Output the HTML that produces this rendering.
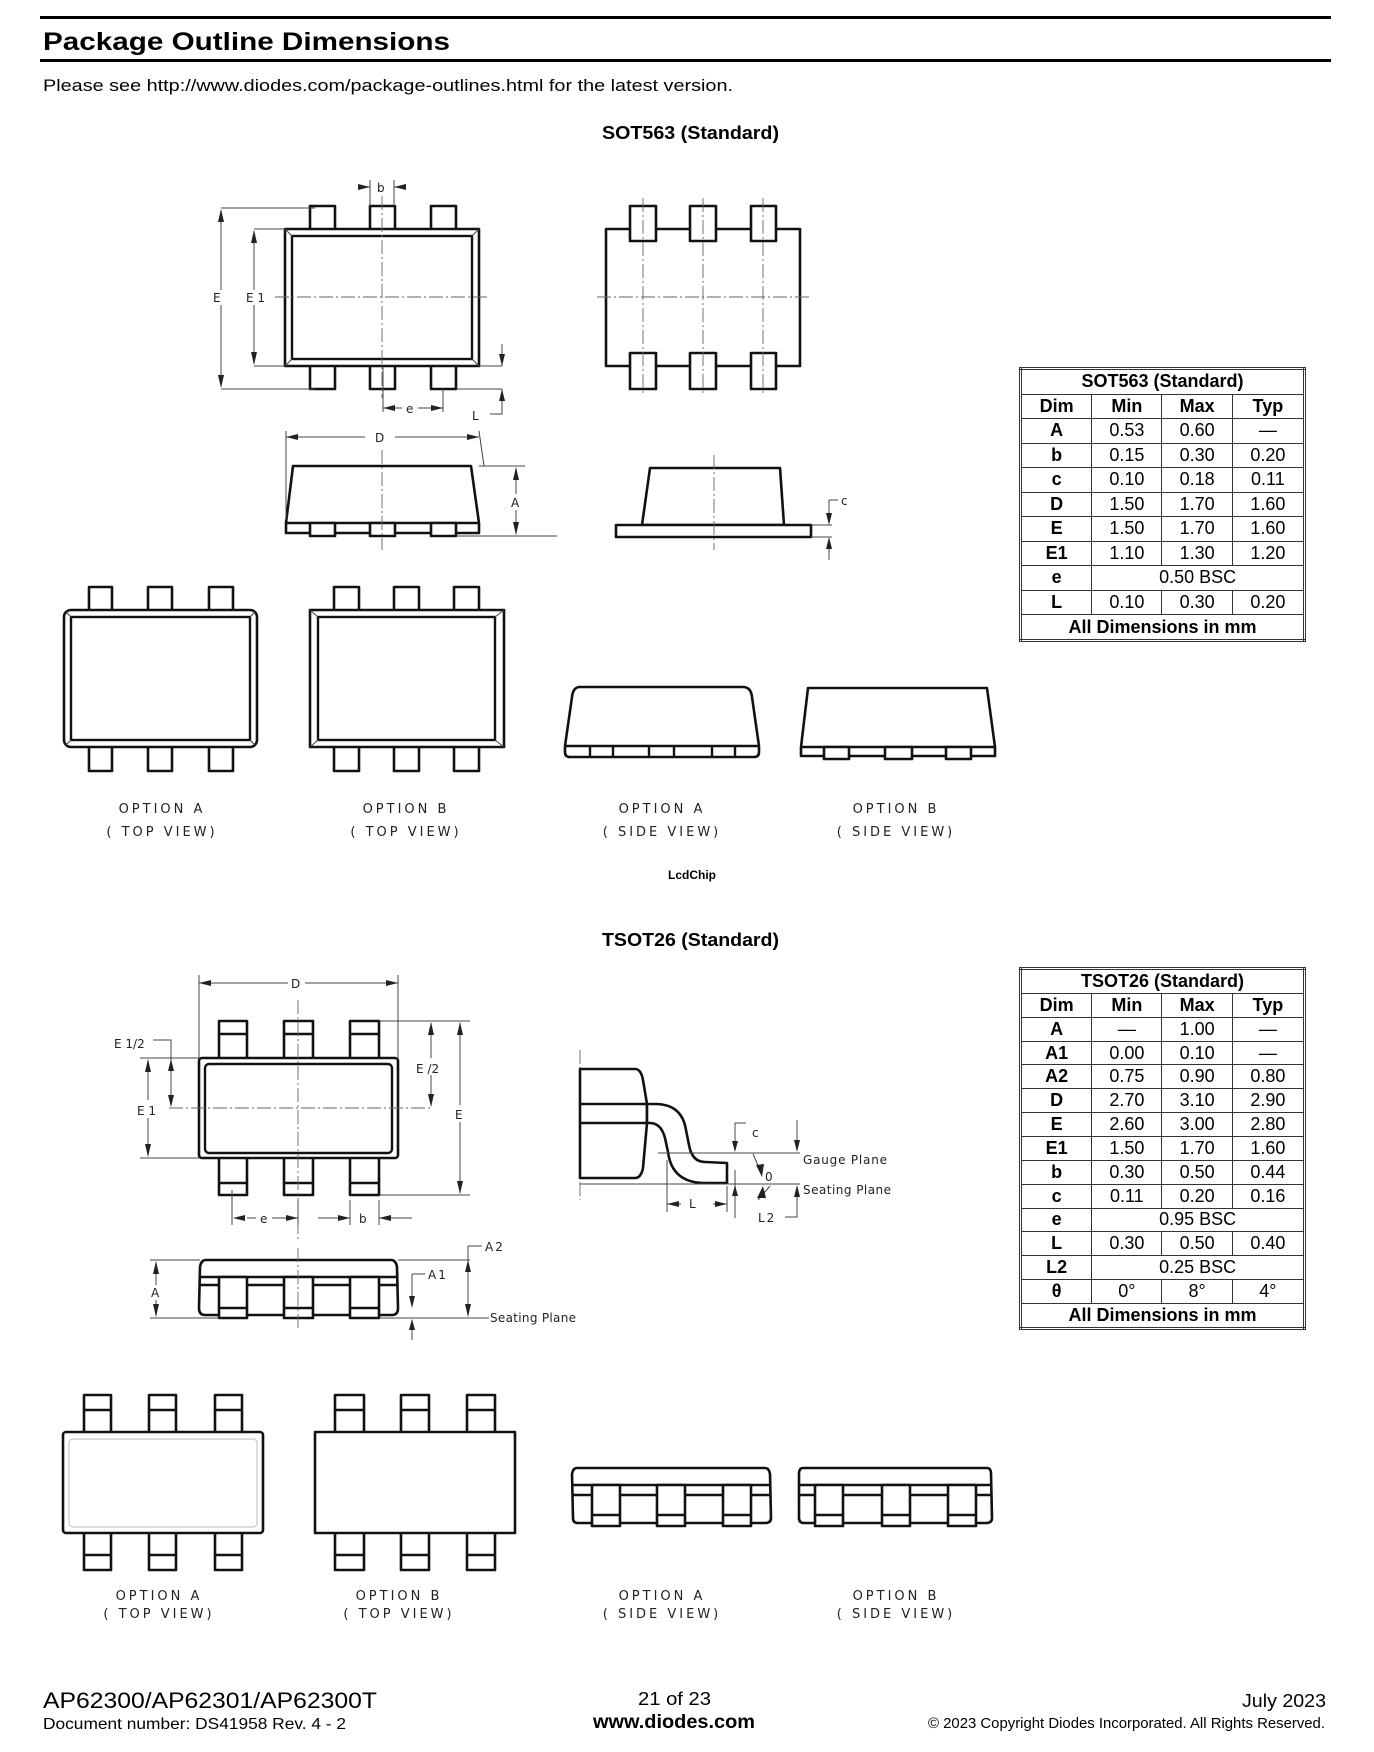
<!DOCTYPE html>
<html><head><meta charset="utf-8"><style>
html,body{margin:0;padding:0;background:#fff;}
svg{display:block;}
.t{font-family:"Liberation Sans",Arial,sans-serif;}
.d{font-family:"DejaVu Sans","Liberation Sans",sans-serif;font-size:12px;fill:#222;}
.o{font-family:"DejaVu Sans","Liberation Sans",sans-serif;font-size:13px;letter-spacing:3px;fill:#222;text-anchor:middle;}
.s{fill:#fff;stroke:#111;stroke-width:2.6;stroke-linejoin:round;}
.n{fill:none;stroke:#111;stroke-width:2.4;}
.th{fill:none;stroke:#444;stroke-width:1;}
.cl{fill:none;stroke:#666;stroke-width:0.9;stroke-dasharray:14,3,2,3;}
.ar{fill:#222;}
table{position:absolute;border-collapse:collapse;font-family:"Liberation Sans",Arial,sans-serif;font-size:18px;text-align:center;border:3px double #333;}
td{border:1.5px solid #333;padding:0;line-height:21px;}
tr td:first-child{font-weight:bold;}
</style></head><body>
<div style="position:relative;width:1374px;height:1752px;overflow:hidden;">
<svg width="1374" height="1752" viewBox="0 0 1374 1752" xmlns="http://www.w3.org/2000/svg">
<!-- header -->
<rect x="40" y="16" width="1291" height="3" fill="#000"/>
<text class="t" x="43" y="50" font-size="25" font-weight="bold" textLength="407" lengthAdjust="spacingAndGlyphs">Package Outline Dimensions</text>
<rect x="40" y="59" width="1291" height="3" fill="#000"/>
<text class="t" x="43" y="91" font-size="17" textLength="690" lengthAdjust="spacingAndGlyphs">Please see http://www.diodes.com/package-outlines.html for the latest version.</text>
<text class="t" x="602" y="139" font-size="18" font-weight="bold" textLength="177" lengthAdjust="spacingAndGlyphs">SOT563 (Standard)</text>

<!-- SOT563 top view -->
<g>
<rect class="s" x="310" y="206" width="25" height="26"/><rect class="s" x="370" y="206" width="25" height="26"/><rect class="s" x="431" y="206" width="25" height="26"/>
<rect class="s" x="310" y="362" width="25" height="27"/><rect class="s" x="370" y="362" width="25" height="27"/><rect class="s" x="431" y="362" width="25" height="27"/>
<rect class="s" x="285" y="229" width="194" height="137"/>
<rect class="n" x="292" y="236" width="180" height="123"/>
<path class="th" d="M285,229 L292,236 M479,229 L472,236 M285,366 L292,359 M479,366 L472,359"/>
<line class="cl" x1="382" y1="196" x2="382" y2="398"/>
<line class="cl" x1="275" y1="297" x2="490" y2="297"/>
<line class="th" x1="221" y1="208" x2="315" y2="208"/><line class="th" x1="221" y1="389" x2="315" y2="389"/>
<path class="th" d="M221,290 V210 M221,305 V387" />
<path class="ar" d="M218,222 L221,209 L224,222z M218,375 L221,388 L224,375z"/>
<text class="d" x="213" y="302">E</text>
<line class="th" x1="254" y1="229" x2="285" y2="229"/><line class="th" x1="254" y1="366" x2="285" y2="366"/>
<path class="th" d="M254,290 V231 M254,305 V364"/>
<path class="ar" d="M251,243 L254,230 L257,243z M251,352 L254,365 L257,352z"/>
<text class="d" x="246" y="302">E 1</text>
<path class="th" d="M358,187 H370 M394,187 H406 M370,180 V206 M394,180 V206"/>
<path class="ar" d="M358,184 L370,187 L358,190z M406,184 L394,187 L406,190z"/>
<text class="d" x="377" y="192">b</text>
<path class="th" d="M383,366 V412 M443,389 V412 M383,408 H402 M418,408 H443"/>
<path class="ar" d="M395,405 L383,408 L395,411z M431,405 L443,408 L431,411z"/>
<text class="d" x="406" y="413">e</text>
<path class="th" d="M479,366 H502 M456,389 H502 M502,344 V366 M502,389 V414 H490"/>
<path class="ar" d="M499,354 L502,366 L505,354z M499,401 L502,389 L505,401z"/>
<text class="d" x="472" y="420">L</text>
</g>
<!-- SOT563 bottom view -->
<g>
<rect class="s" x="606" y="229" width="194" height="137"/>
<rect class="s" x="630" y="206" width="26" height="35"/><rect class="s" x="690" y="206" width="26" height="35"/><rect class="s" x="751" y="206" width="25" height="35"/>
<rect class="s" x="630" y="353" width="26" height="36"/><rect class="s" x="690" y="353" width="26" height="36"/><rect class="s" x="751" y="353" width="25" height="36"/>
<line class="cl" x1="703" y1="198" x2="703" y2="396"/><line class="cl" x1="597" y1="297" x2="810" y2="297"/>
<line class="cl" x1="643" y1="198" x2="643" y2="396"/><line class="cl" x1="763" y1="198" x2="763" y2="396"/>
</g>
<!-- SOT563 side view w/ D, A -->
<g>
<path class="s" d="M293,466 H471 L479,523 V533 H286 V523z"/>
<line class="n" x1="286" y1="523" x2="479" y2="523"/>
<rect class="s" x="310" y="523" width="25" height="13"/><rect class="s" x="370" y="523" width="25" height="13"/><rect class="s" x="431" y="523" width="25" height="13"/>
<line class="cl" x1="382" y1="450" x2="382" y2="550"/>
<path class="th" d="M286,431 V520 M479,431 L484,466 M286,437 H365 M395,437 H479"/>
<path class="ar" d="M298,434 L286,437 L298,440z M467,434 L479,437 L467,440z"/>
<text class="d" x="375" y="442">D</text>
<path class="th" d="M479,466 H525 M456,536 H557 M516,468 V494 M516,510 V534"/>
<path class="ar" d="M513,480 L516,467 L519,480z M513,522 L516,535 L519,522z"/>
<text class="d" x="511" y="507">A</text>
</g>
<g>
<path class="s" d="M650,468 H780 L784,525 H642z"/>
<rect class="s" x="616" y="525" width="195" height="12"/>
<line class="cl" x1="714" y1="455" x2="714" y2="550"/>
<path class="th" d="M811,525 H832 M811,537 H832 M829,500 H838 M829,500 V518 M829,544 V560"/>
<path class="ar" d="M826,513 L829,525 L832,513z M826,549 L829,537 L832,549z"/>
<text class="d" x="841" y="505">c</text>
</g>

<!-- SOT563 options -->
<g>
<rect class="s" x="89" y="587" width="23" height="24"/><rect class="s" x="148" y="587" width="24" height="24"/><rect class="s" x="209" y="587" width="24" height="24"/>
<rect class="s" x="89" y="746" width="23" height="25"/><rect class="s" x="148" y="746" width="24" height="25"/><rect class="s" x="209" y="746" width="24" height="25"/>
<rect class="s" x="64" y="610" width="193" height="137" rx="7"/>
<rect class="n" x="71" y="617" width="179" height="123"/>
<path class="th" d="M66,612 L71,617 M255,612 L250,617 M66,745 L71,740 M255,745 L250,740"/>

<rect class="s" x="334" y="587" width="25" height="24"/><rect class="s" x="394" y="587" width="25" height="24"/><rect class="s" x="454" y="587" width="25" height="24"/>
<rect class="s" x="334" y="746" width="25" height="25"/><rect class="s" x="394" y="746" width="25" height="25"/><rect class="s" x="454" y="746" width="25" height="25"/>
<rect class="s" x="310" y="610" width="194" height="137"/>
<rect class="n" x="318" y="617" width="177" height="123"/>
<path class="th" d="M310,610 L318,617 M504,610 L495,617 M310,747 L318,740 M504,747 L495,740"/>

<path class="s" d="M580,687 H743 Q751,687 752,697 L759,746 V752 Q759,757 754,757 H570 Q565,757 565,752 V746 L572,697 Q573,687 580,687z"/>
<path class="n" d="M565,746 H759 M590,746 V757 M613,746 V757 M649,746 V757 M674,746 V757 M712,746 V757 M735,746 V757"/>

<path class="s" d="M808,688 H987 L995,747 V756 H801 V747z"/>
<line class="n" x1="801" y1="747" x2="995" y2="747"/>
<rect class="s" x="824" y="747" width="25" height="12"/><rect class="s" x="885" y="747" width="27" height="12"/><rect class="s" x="946" y="747" width="25" height="12"/>
</g>
<text class="o" x="162" y="813">OPTION A</text><text class="o" x="162" y="836">( TOP VIEW)</text>
<text class="o" x="406" y="813">OPTION B</text><text class="o" x="406" y="836">( TOP VIEW)</text>
<text class="o" x="662" y="813">OPTION A</text><text class="o" x="662" y="836">( SIDE VIEW)</text>
<text class="o" x="896" y="813">OPTION B</text><text class="o" x="896" y="836">( SIDE VIEW)</text>
<text class="t" x="692" y="879" font-size="12" font-weight="bold" text-anchor="middle">LcdChip</text>

<text class="t" x="602" y="946" font-size="18" font-weight="bold" textLength="177" lengthAdjust="spacingAndGlyphs">TSOT26 (Standard)</text>

<!-- TSOT26 top view -->
<g>
<rect class="s" x="219" y="1021" width="28" height="38"/><rect class="s" x="284" y="1021" width="29" height="38"/><rect class="s" x="350" y="1021" width="29" height="38"/>
<rect class="s" x="219" y="1157" width="28" height="38"/><rect class="s" x="284" y="1157" width="29" height="38"/><rect class="s" x="350" y="1157" width="29" height="38"/>
<path class="n" d="M219,1034 H247 M284,1034 H313 M350,1034 H379 M219,1183 H247 M284,1183 H313 M350,1183 H379"/>
<rect class="s" x="199" y="1058" width="199" height="100" rx="3"/>
<rect class="n" x="205" y="1064" width="187" height="89" rx="4"/>
<line class="cl" x1="298" y1="1000" x2="298" y2="1240"/>
<line class="cl" x1="169" y1="1108" x2="433" y2="1108"/>
<path class="th" d="M199,975 V1058 M398,975 V1058 M199,983 H288 M305,983 H398"/>
<path class="ar" d="M211,980 L199,983 L211,986z M386,980 L398,983 L386,986z"/>
<text class="d" x="291" y="988">D</text>
<path class="th" d="M379,1021 H470 M379,1195 H470 M460,1023 V1105 M460,1122 V1193"/>
<path class="ar" d="M457,1035 L460,1022 L463,1035z M457,1181 L460,1194 L463,1181z"/>
<text class="d" x="455" y="1119">E</text>
<path class="th" d="M431,1023 V1058 M431,1075 V1106"/>
<path class="ar" d="M428,1035 L431,1022 L434,1035z M428,1094 L431,1107 L434,1094z"/>
<text class="d" x="416" y="1073">E /2</text>
<path class="th" d="M140,1058 H199 M140,1158 H199 M153,1040 H171 V1106"/>
<path class="ar" d="M168,1071 L171,1059 L174,1071z M168,1095 L171,1107 L174,1095z"/>
<text class="d" x="114" y="1048">E 1/2</text>
<path class="th" d="M148,1060 V1100 M148,1118 V1156"/>
<path class="ar" d="M145,1072 L148,1059 L151,1072z M145,1144 L148,1157 L151,1144z"/>
<text class="d" x="137" y="1115">E 1</text>
<path class="th" d="M232,1190 V1225 M247,1218 H256 M272,1218 H298 M298,1200 V1225 M350,1200 V1225 M379,1200 V1225 M318,1218 H350 M379,1218 H412"/>
<path class="ar" d="M245,1215 L233,1218 L245,1221z M286,1215 L298,1218 L286,1221z M338,1215 L350,1218 L338,1221z M391,1215 L379,1218 L391,1221z"/>
<text class="d" x="260" y="1223">e</text><text class="d" x="359" y="1223">b</text>
</g>
<!-- TSOT26 side view -->
<g>
<path class="s" d="M206,1260 H391 Q396,1260 397,1267 L398,1308 Q398,1315 392,1315 H205 Q199,1315 199,1308 L200,1267 Q201,1260 206,1260z"/>
<path class="n" d="M199,1277 H398 M199,1285 H398"/>
<rect class="s" x="219" y="1277" width="28" height="41"/><rect class="s" x="284" y="1277" width="29" height="41"/><rect class="s" x="350" y="1277" width="29" height="41"/>
<path class="n" d="M219,1308 H247 M284,1308 H313 M350,1308 H379"/>
<line class="cl" x1="298" y1="1248" x2="298" y2="1330"/>
<path class="th" d="M150,1260 H200 M150,1318 H220 M156,1262 V1285 M156,1300 V1316 M398,1260 H470 M379,1318 H489 M468,1246 V1316 M468,1246 H482 M412,1274 V1300 M412,1274 H425 M412,1320 V1340"/>
<path class="ar" d="M153,1274 L156,1261 L159,1274z M153,1304 L156,1317 L159,1304z M465,1272 L468,1260 L471,1272z M465,1304 L468,1317 L471,1304z M409,1296 L412,1308 L415,1296z M409,1330 L412,1319 L415,1330z"/>
<text class="d" x="151" y="1297">A</text>
<text class="d" x="485" y="1251" letter-spacing="2">A2</text>
<text class="d" x="428" y="1279" letter-spacing="2">A1</text>
<text class="d" x="490" y="1322" font-size="11" letter-spacing="1" textLength="87">Seating Plane</text>
</g>
<!-- gull wing -->
<g>
<line class="cl" x1="580" y1="1050" x2="580" y2="1200"/>
<path class="s" d="M580,1069 H635 Q641,1069 643,1080 L647,1104 L647,1123 L643,1168 Q641,1178 635,1178 H580z"/>
<path class="n" d="M580,1104 H647 M580,1123 H647"/>
<path class="s" d="M647,1104 H655 Q682,1104 686,1130 L689,1145 Q692,1162 705,1162 L727,1163 V1183 L705,1183 Q672,1183 668,1152 L665,1138 Q661,1123 650,1123 H647z"/>
<path class="th" d="M658,1153 H800 M580,1184 H800 M667,1160 V1212 M727,1186 V1212 M667,1204 H681 M713,1204 H727 M735,1123 V1143 M735,1170 V1218 M735,1123 H746 M797,1120 V1145 M797,1193 V1217 H785 M753,1154 L760,1170 M758,1200 L770,1186"/>
<path class="ar" d="M679,1201 L667,1204 L679,1207z M715,1201 L727,1204 L715,1207z M732,1141 L735,1152 L738,1141z M732,1196 L735,1185 L738,1196z M794,1140 L797,1152 L800,1140z M794,1197 L797,1185 L800,1197z M756,1165 L762,1177 L764,1164z M757,1198 L763,1186 L766,1198z"/>
<text class="d" x="689" y="1208">L</text>
<text class="d" x="752" y="1137">c</text>
<text class="d" x="765" y="1181">0</text>
<text class="d" x="758" y="1222" letter-spacing="2">L2</text>
<text class="d" x="803" y="1164" font-size="11" textLength="84">Gauge Plane</text>
<text class="d" x="803" y="1194" font-size="11" textLength="88">Seating Plane</text>
</g>

<!-- TSOT26 options -->
<g>
<rect class="s" x="84" y="1395" width="27" height="38"/><rect class="s" x="149" y="1395" width="27" height="38"/><rect class="s" x="215" y="1395" width="27" height="38"/>
<rect class="s" x="84" y="1532" width="27" height="38"/><rect class="s" x="149" y="1532" width="27" height="38"/><rect class="s" x="215" y="1532" width="27" height="38"/>
<path class="n" d="M84,1410 H111 M149,1410 H176 M215,1410 H242 M84,1555 H111 M149,1555 H176 M215,1555 H242"/>
<rect class="s" x="63" y="1432" width="200" height="101" rx="3"/>
<rect x="69" y="1439" width="188" height="88" rx="4" fill="none" stroke="#bbb" stroke-width="1"/>

<rect class="s" x="335" y="1395" width="29" height="38"/><rect class="s" x="401" y="1395" width="28" height="38"/><rect class="s" x="467" y="1395" width="28" height="38"/>
<rect class="s" x="335" y="1532" width="29" height="38"/><rect class="s" x="401" y="1532" width="28" height="38"/><rect class="s" x="467" y="1532" width="28" height="38"/>
<path class="n" d="M335,1410 H364 M401,1410 H429 M467,1410 H495 M335,1555 H364 M401,1555 H429 M467,1555 H495"/>
<rect class="s" x="315" y="1432" width="200" height="101"/>

<path class="s" d="M577,1468 H765 Q769,1468 770,1474 L771,1518 Q771,1523 765,1523 H578 Q573,1523 573,1518 L572,1474 Q573,1468 577,1468z"/>
<path class="n" d="M572,1485 H771 M572,1495 H771"/>
<rect class="s" x="592" y="1485" width="28" height="41"/><rect class="s" x="657" y="1485" width="28" height="41"/><rect class="s" x="723" y="1485" width="28" height="41"/>
<path class="n" d="M592,1515 H620 M657,1515 H685 M723,1515 H751"/>

<path class="s" d="M803,1468 H987 Q991,1468 991,1474 L992,1518 Q992,1523 986,1523 H804 Q799,1523 799,1518 L799,1474 Q799,1468 803,1468z"/>
<path class="n" d="M799,1485 H992 M799,1495 H992"/>
<rect class="s" x="815" y="1485" width="28" height="41"/><rect class="s" x="882" y="1485" width="28" height="41"/><rect class="s" x="948" y="1485" width="28" height="41"/>
<path class="n" d="M815,1515 H843 M882,1515 H910 M948,1515 H976"/>
</g>
<text class="o" x="159" y="1600" font-size="12">OPTION A</text><text class="o" x="159" y="1618" font-size="12">( TOP VIEW)</text>
<text class="o" x="399" y="1600" font-size="12">OPTION B</text><text class="o" x="399" y="1618" font-size="12">( TOP VIEW)</text>
<text class="o" x="662" y="1600" font-size="12">OPTION A</text><text class="o" x="662" y="1618" font-size="12">( SIDE VIEW)</text>
<text class="o" x="896" y="1600" font-size="12">OPTION B</text><text class="o" x="896" y="1618" font-size="12">( SIDE VIEW)</text>

<!-- footer -->
<text class="t" x="43" y="1708" font-size="22" textLength="334" lengthAdjust="spacingAndGlyphs">AP62300/AP62301/AP62300T</text>
<text class="t" x="43" y="1729" font-size="16" textLength="303" lengthAdjust="spacingAndGlyphs">Document number: DS41958 Rev. 4 - 2</text>
<text class="t" x="638" y="1705" font-size="18" textLength="73" lengthAdjust="spacingAndGlyphs">21 of 23</text>
<text class="t" x="593" y="1728" font-size="19" font-weight="bold" textLength="162" lengthAdjust="spacingAndGlyphs">www.diodes.com</text>
<text class="t" x="1242" y="1707" font-size="18" textLength="84" lengthAdjust="spacingAndGlyphs">July 2023</text>
<text class="t" x="928" y="1728" font-size="15" textLength="397" lengthAdjust="spacingAndGlyphs">© 2023 Copyright Diodes Incorporated. All Rights Reserved.</text>
</svg>

<table style="left:1019px;top:367px;width:287px;height:275px;">
<colgroup><col style="width:72px"><col style="width:71px"><col style="width:71px"><col style="width:73px"></colgroup>
<tr><td colspan="4" style="font-weight:bold">SOT563 (Standard)</td></tr>
<tr style="font-weight:bold"><td>Dim</td><td>Min</td><td>Max</td><td>Typ</td></tr>
<tr><td>A</td><td>0.53</td><td>0.60</td><td>—</td></tr>
<tr><td>b</td><td>0.15</td><td>0.30</td><td>0.20</td></tr>
<tr><td>c</td><td>0.10</td><td>0.18</td><td>0.11</td></tr>
<tr><td>D</td><td>1.50</td><td>1.70</td><td>1.60</td></tr>
<tr><td>E</td><td>1.50</td><td>1.70</td><td>1.60</td></tr>
<tr><td>E1</td><td>1.10</td><td>1.30</td><td>1.20</td></tr>
<tr><td>e</td><td colspan="3">0.50 BSC</td></tr>
<tr><td>L</td><td>0.10</td><td>0.30</td><td>0.20</td></tr>
<tr><td colspan="4" style="font-weight:bold">All Dimensions in mm</td></tr>
</table>

<table style="left:1019px;top:967px;width:287px;height:363px;">
<colgroup><col style="width:72px"><col style="width:71px"><col style="width:71px"><col style="width:73px"></colgroup>
<tr><td colspan="4" style="font-weight:bold">TSOT26 (Standard)</td></tr>
<tr style="font-weight:bold"><td>Dim</td><td>Min</td><td>Max</td><td>Typ</td></tr>
<tr><td>A</td><td>—</td><td>1.00</td><td>—</td></tr>
<tr><td>A1</td><td>0.00</td><td>0.10</td><td>—</td></tr>
<tr><td>A2</td><td>0.75</td><td>0.90</td><td>0.80</td></tr>
<tr><td>D</td><td>2.70</td><td>3.10</td><td>2.90</td></tr>
<tr><td>E</td><td>2.60</td><td>3.00</td><td>2.80</td></tr>
<tr><td>E1</td><td>1.50</td><td>1.70</td><td>1.60</td></tr>
<tr><td>b</td><td>0.30</td><td>0.50</td><td>0.44</td></tr>
<tr><td>c</td><td>0.11</td><td>0.20</td><td>0.16</td></tr>
<tr><td>e</td><td colspan="3">0.95 BSC</td></tr>
<tr><td>L</td><td>0.30</td><td>0.50</td><td>0.40</td></tr>
<tr><td>L2</td><td colspan="3">0.25 BSC</td></tr>
<tr><td>θ</td><td>0°</td><td>8°</td><td>4°</td></tr>
<tr><td colspan="4" style="font-weight:bold">All Dimensions in mm</td></tr>
</table>
</div>
</body></html>
